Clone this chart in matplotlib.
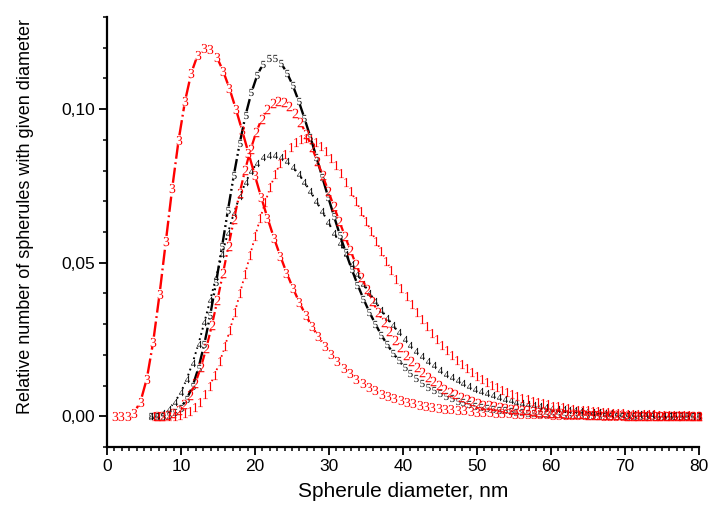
import numpy as np
import matplotlib
matplotlib.use('Agg')
import matplotlib.pyplot as plt
from matplotlib.collections import LineCollection
from matplotlib.ticker import MultipleLocator, FixedLocator, FuncFormatter

# ---------------- data (relative number, in units of 1e-4) ----------------
# each curve is sampled on an evenly spaced diameter grid from its start to 80 nm
start_1, start_2, start_3, start_4, start_5 = 6.4, 6.7, 1.1, 6.0, 6.0
end_d = 80.0

y1 = [0, 0, 0, 1, 2, 5, 10, 18, 30, 47, 71, 100, 136, 179, 228, 282, 341, 402, 464, 526,
      587, 645, 698, 747, 789, 826, 855, 878, 893, 902, 905, 902, 893, 880, 863, 842, 817, 791, 762, 732,
      700, 668, 635, 602, 570, 538, 507, 476, 446, 418, 391, 364, 339, 316, 293, 272, 252, 233, 216, 199,
      184, 169, 156, 144, 132, 121, 111, 102, 94, 86, 79, 72, 66, 61, 55, 51, 46, 42, 39, 35,
      32, 29, 27, 25, 22, 20, 19, 17, 16, 14, 13, 12, 11, 10, 9, 8, 7, 7, 6, 6,
      5, 5, 4, 4, 3, 3, 3, 2, 2]

y2 = [0, 1, 4, 10, 21, 40, 68, 108, 159, 223, 297, 379, 466, 555, 643, 726, 803, 869, 925, 969,
      1001, 1020, 1028, 1024, 1010, 987, 957, 920, 878, 832, 784, 735, 685, 636, 588, 541, 496, 454, 413, 375,
      340, 307, 277, 250, 224, 201, 180, 161, 143, 128, 114, 101, 90, 80, 71, 63, 55, 49, 43, 38,
      36, 33, 30, 27, 25, 23, 21, 19, 17, 15, 14, 12, 11, 10, 9, 8, 7, 6, 5, 5,
      4, 4, 3, 3, 3, 2, 2, 2, 2, 1, 1, 1, 1, 1, 1, 1, 0, 0, 0]

y3 = [0, 0, 2, 12, 48, 123, 243, 398, 571, 744, 899, 1025, 1118, 1176, 1200, 1197, 1170, 1125, 1068, 1002,
      931, 858, 785, 714, 646, 582, 523, 468, 418, 372, 330, 293, 260, 230, 203, 179, 158, 140, 123, 109,
      96, 84, 74, 66, 58, 52, 47, 42, 38, 34, 31, 28, 25, 23, 21, 19, 17, 15, 14, 13,
      12, 11, 10, 9, 8, 7, 7, 6, 6, 5, 5, 4, 4, 4, 3, 3, 3, 2, 2, 2,
      2, 2, 1, 1, 1, 1, 1, 1, 1, 1, 0, 0, 0]

y4 = [1, 5, 12, 25, 47, 78, 121, 174, 236, 306, 379, 454, 528, 597, 661, 716, 762, 799, 826, 844,
      852, 852, 845, 831, 812, 789, 762, 732, 700, 667, 633, 598, 563, 529, 496, 464, 432, 403, 374, 347,
      321, 297, 273, 253, 233, 214, 197, 181, 166, 152, 139, 128, 117, 107, 98, 89, 82, 75, 68, 62,
      57, 52, 47, 43, 39, 36, 33, 30, 27, 25, 23, 21, 19, 17, 16, 14, 13, 12, 11, 10,
      9, 8, 8, 7, 6, 6, 5, 5, 4, 4, 4, 3, 3, 3]

y5 = [0, 0, 1, 5, 13, 28, 56, 98, 158, 236, 331, 438, 553, 671, 785, 889, 981, 1055, 1112, 1148,
      1166, 1166, 1150, 1119, 1078, 1027, 970, 909, 845, 780, 715, 652, 591, 534, 480, 429, 383, 340, 302, 266,
      235, 207, 182, 160, 141, 124, 109, 96, 85, 75, 66, 58, 51, 45, 40, 35, 31, 27, 24, 21,
      19, 17, 15, 13, 11, 10, 9, 8, 7, 6, 5, 4, 4, 3, 3, 3, 2, 2, 2, 1,
      1, 1, 1, 1, 1, 1, 1, 0, 0, 0, 0, 0, 0, 0]

labels = ['1', '2', '3', '4', '5']
x_ticks = [0, 10, 20, 30, 40, 50, 60, 70, 80]
y_ticks = [0.00, 0.05, 0.10]
x_label = 'Spherule diameter, nm'
y_label = 'Relative number of spherules with given diameter'

# ---------------- style ----------------
plt.rcParams['font.family'] = ['Liberation Sans', 'DejaVu Sans']
plt.rcParams['mathtext.fontset'] = 'custom'
plt.rcParams['mathtext.rm'] = 'Liberation Serif'
plt.rcParams['lines.scale_dashes'] = False

RED = '#ff0000'
BLK = '#000000'
styles = {
    '1': dict(color=RED, dashes=(1.2, 2.6), ms=6.6, gap=4.8, lw=1.3),
    '2': dict(color=RED, dashes=(6.0, 2.4, 1.3, 2.4), ms=6.8, gap=5.0, lw=1.6),
    '3': dict(color=RED, dashes=(11.0, 2.6, 1.3, 2.6), ms=6.6, gap=5.0, lw=1.7),
    '4': dict(color=BLK, dashes=(1.3, 2.6), ms=5.2, gap=3.9, lw=1.4),
    '5': dict(color=BLK, dashes=(9.0, 2.4, 1.3, 2.4, 1.3, 2.4), ms=5.2, gap=3.9, lw=1.7),
}

fig = plt.figure(figsize=(7.08, 5.13), dpi=100)
ax = fig.add_axes([107 / 708, 66 / 513, 592 / 708, 430 / 513])
ax.set_xlim(0, 80)
ax.set_ylim(-0.01, 0.13)

for s in ['top', 'right']:
    ax.spines[s].set_visible(False)
for s in ['left', 'bottom']:
    ax.spines[s].set_linewidth(1.6)

ax.xaxis.set_major_locator(FixedLocator(x_ticks))
ax.xaxis.set_minor_locator(MultipleLocator(1))
ax.yaxis.set_major_locator(FixedLocator(y_ticks))
ax.yaxis.set_minor_locator(MultipleLocator(0.01))
ax.yaxis.set_major_formatter(FuncFormatter(lambda v, p: ('%.2f' % v).replace('.', ',')))
ax.xaxis.set_major_formatter(FuncFormatter(lambda v, p: '%d' % round(v)))
ax.tick_params(which='major', direction='out', length=5.5, width=1.3, labelsize=12.5, pad=3)
ax.tick_params(which='minor', direction='out', length=3, width=1.1)

ax.set_xlabel(x_label, fontsize=15, labelpad=6)
ax.set_ylabel(y_label, fontsize=13.0)
ax.yaxis.set_label_coords(-0.123, 0.537)

starts = {'1': start_1, '2': start_2, '3': start_3, '4': start_4, '5': start_5}
series = {'1': y1, '2': y2, '3': y3, '4': y4, '5': y5}
order = ['4', '1', '5', '2', '3']

inv = ax.transData.inverted()
for name in order:
    vals = np.array(series[name], dtype=float) * 1e-4
    xs = np.linspace(starts[name], end_d, len(vals))
    st = styles[name]
    pts = ax.transData.transform(np.column_stack([xs, vals]))
    d = np.diff(pts, axis=0)
    L = np.hypot(d[:, 0], d[:, 1])
    segs = []
    for p0, dd, l in zip(pts[:-1], d, L):
        if l > 2 * st['gap'] + 1.0:
            u = dd / l
            a = p0 + u * st['gap']
            b = p0 + dd - u * st['gap']
            segs.append(inv.transform(np.array([a, b])))
    lc = LineCollection(segs, colors=st['color'], linewidths=st['lw'],
                        linestyles=[(0, st['dashes'])], capstyle='butt')
    ax.add_collection(lc)
    ax.plot(xs, vals, linestyle='none', marker=r'$\mathrm{%s}$' % name,
            ms=st['ms'], color=st['color'], markeredgewidth=0, clip_on=False)

fig.savefig('out.png', dpi=100)
